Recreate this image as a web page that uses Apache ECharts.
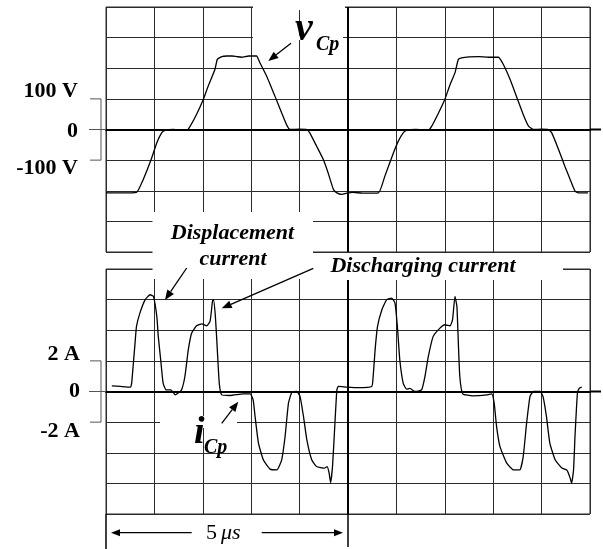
<!DOCTYPE html>
<html>
<head>
<meta charset="utf-8">
<script src="https://cdn.jsdelivr.net/npm/echarts@6/dist/echarts.min.js"></script>
<style>
  html, body { margin: 0; padding: 0; background: #fff; }
  #c { width: 603px; height: 549px; }
</style>
</head>
<body>
<div id="c"></div>
<script>
// Time in microseconds, 0 = centre graticule line (1 us per division).
const vcpTime = [-5, -4.7, -4.37, -4.23, -4.06, -3.95, -3.85, -3.78, -3.6, -3.5,
  -3.4, -3.33, -3.26, -3.13, -2.99, -2.89, -2.75, -2.70, -2.61, -2.5,
  -2.4, -2.3, -2.2, -2.05, -1.89, -1.82, -1.68, -1.51, -1.37, -1.27,
  -1.20, -1.0, -0.85, -0.79, -0.65, -0.51, -0.41, -0.30, -0.23, -0.13,
  0, 0.1, 0.3, 0.63, 0.76, 0.94, 1.04, 1.14, 1.21, 1.4,
  1.66, 1.73, 1.87, 2.0, 2.11, 2.21, 2.28, 2.35, 2.5, 2.7,
  2.9, 3.11, 3.21, 3.35, 3.49, 3.62, 3.73, 3.83, 4.0, 4.14,
  4.21, 4.35, 4.48, 4.59, 4.69, 4.76, 4.96];
// Capacitor voltage v_Cp (V)
const vcpVolts = [-207, -207, -205, -163, -95, -43, -11, -3, 0, -2,
  -3, -3, 11, 49, 98, 141, 196, 229, 238, 240,
  240, 238, 236, 240, 240, 218, 174, 109, 54, 16,
  0, 1, 0, -11, -54, -98, -142, -196, -207, -212,
  -207, -205, -208, -207, -153, -76, -38, -11, -3, 0,
  -2, 11, 54, 98, 147, 185, 229, 234, 237, 238,
  236, 236, 212, 163, 104, 49, 11, 0, 1, 0,
  -11, -65, -120, -163, -201, -207, -207];

const icpTime = [-4.88, -4.7, -4.5, -4.47, -4.44, -4.4, -4.37, -4.30, -4.19, -4.09,
  -4.02, -3.95, -3.92, -3.87, -3.82, -3.76, -3.66, -3.57, -3.51, -3.44,
  -3.37, -3.30, -3.23, -3.13, -3.02, -2.92, -2.85, -2.80, -2.78, -2.74,
  -2.70, -2.66, -2.61, -2.44, -2.16, -2.02, -1.96, -1.92, -1.85, -1.75,
  -1.61, -1.47, -1.37, -1.30, -1.23, -1.16, -1.06, -0.99, -0.92, -0.85,
  -0.75, -0.65, -0.48, -0.43, -0.39, -0.36, -0.32, -0.27, -0.23, -0.20,
  -0.03, 0.2, 0.49, 0.52, 0.56, 0.61, 0.70, 0.80, 0.90, 0.97,
  1.02, 1.07, 1.14, 1.21, 1.28, 1.38, 1.52, 1.59, 1.66, 1.76,
  1.90, 2.0, 2.11, 2.16, 2.21, 2.25, 2.28, 2.31, 2.37, 2.58,
  2.86, 2.97, 3.02, 3.07, 3.14, 3.28, 3.42, 3.55, 3.62, 3.69,
  3.76, 3.83, 3.97, 4.03, 4.10, 4.17, 4.28, 4.42, 4.52, 4.55,
  4.59, 4.62, 4.66, 4.69, 4.74, 4.78, 4.83];
// Capacitor current i_Cp (A)
const icpAmps = [0.37, 0.33, 0.29, 0.55, 1.63, 3.16, 4.25, 5.12, 6.0, 6.32,
  6.21, 4.9, 3.6, 2.07, 0.55, 0.11, 0.11, -0.22, -0.1, 0.1,
  0.98, 2.72, 3.82, 4.29, 4.42, 4.29, 4.58, 5.88, 6.0, 4.9,
  2.72, 0.55, -0.22, -0.26, -0.15, -0.15, -0.54, -1.63, -3.37, -4.46,
  -5.07, -5.12, -4.46, -2.94, -0.76, -0.06, 0, -0.33, -1.63, -3.16,
  -4.46, -4.9, -5.0, -4.9, -5.33, -5.95, -4.9, -2.07, 0.11, 0.33,
  0.29, 0.25, 0.33, 0.98, 2.72, 4.25, 5.34, 6.0, 6.1, 5.78,
  4.25, 2.07, 0.55, 0.15, 0.2, 0, 0.1, 0.98, 2.29, 3.6,
  4.14, 4.36, 4.29, 4.69, 6.21, 5.56, 3.16, 0.98, -0.15, -0.28,
  -0.22, -0.15, -0.76, -2.29, -3.6, -4.68, -5.12, -5.12, -4.25, -2.07,
  -0.33, 0, 0, -0.33, -1.63, -3.37, -4.46, -5.0, -5.12, -5.3,
  -5.66, -5.99, -5.12, -2.94, -0.11, 0.22, 0.29];

// Scale marks on the left of each trace
const voltLabelValues = [100, 0, -100];
const voltLabelTexts = ['100 V', '0', '-100 V'];
const ampLabelValues = [2, 0, -2];
const ampLabelTexts = ['2 A', '0', '-2 A'];
const scaleBarValue = '5';
const scaleBarUnit = 'μs';

const SERIF = '"Liberation Serif", "Times New Roman", serif';
const GRID_COLOR = '#2b2b2b';

function pairs(xs, ys) { return xs.map((x, i) => [x, ys[i]]); }

function labelFormatter(values, texts) {
  const keys = ['up', 'mid', 'down'];
  return function (v) {
    const i = values.indexOf(v);
    return i < 0 ? '' : '{' + keys[i] + '|' + texts[i] + '}';
  };
}
function labelRich(padUp, padMid, padDown) {
  const base = { fontFamily: SERIF, fontWeight: 'bold', fontSize: 22, color: '#000' };
  return {
    up: Object.assign({ padding: padUp }, base),
    mid: Object.assign({ padding: padMid }, base),
    down: Object.assign({ padding: padDown }, base)
  };
}

function xAxisFor(g) {
  return {
    type: 'value', gridIndex: g, min: -5, max: 5, interval: 1,
    axisLabel: { show: false }, axisTick: { show: false },
    axisLine: { show: true, onZero: true, lineStyle: { color: '#000', width: 2 } },
    splitLine: { show: true, lineStyle: { color: GRID_COLOR, width: 1 } }
  };
}
function yAxisFor(g, min, max, step, margin, values, texts, rich) {
  return {
    type: 'value', gridIndex: g, min: min, max: max, interval: step,
    axisLine: { show: false }, axisTick: { show: false },
    axisLabel: { show: true, margin: margin, formatter: labelFormatter(values, texts), rich: rich },
    splitLine: { show: true, lineStyle: { color: GRID_COLOR, width: 1 } }
  };
}

const centreLine = {
  symbol: 'none', silent: true, label: { show: false },
  lineStyle: { color: '#000', width: 2, type: 'solid' },
  data: [{ xAxis: 0 }]
};

const option = {
  animation: false,
  backgroundColor: '#fff',
  grid: [
    { left: 106, top: 7, width: 484, height: 245, show: true, borderColor: GRID_COLOR, borderWidth: 1, backgroundColor: 'transparent' },
    { left: 106, top: 269, width: 484, height: 245, show: true, borderColor: GRID_COLOR, borderWidth: 1, backgroundColor: 'transparent' }
  ],
  xAxis: [xAxisFor(0), xAxisFor(1)],
  yAxis: [
    yAxisFor(0, -400, 400, 100, 28, voltLabelValues, voltLabelTexts, labelRich([0, 0, 15, 0], [3, 0, 0, 0], [17, 0, 0, 0])),
    yAxisFor(1, -8, 8, 2, 26, ampLabelValues, ampLabelTexts, labelRich([0, 0, 14, 0], [0, 0, 0, 0], [18, 0, 0, 0]))
  ],
  series: [
    {
      name: 'v_Cp', type: 'line', xAxisIndex: 0, yAxisIndex: 0,
      data: pairs(vcpTime, vcpVolts), showSymbol: false, smooth: 0.15,
      lineStyle: { color: '#000', width: 1.3 }, markLine: centreLine
    },
    {
      name: 'i_Cp', type: 'line', xAxisIndex: 1, yAxisIndex: 1,
      data: pairs(icpTime, icpAmps), showSymbol: false, smooth: 0.15,
      lineStyle: { color: '#000', width: 1.3 }, markLine: centreLine
    }
  ]
};

const chart = echarts.init(document.getElementById('c'), null, { renderer: 'canvas' });
chart.setOption(option);

const px = (g, x, y) => chart.convertToPixel({ gridIndex: g }, [x, y]);

function seg(x1, y1, x2, y2, w, color, z) {
  return { type: 'line', silent: true, z: z || 30,
    shape: { x1: x1, y1: y1, x2: x2, y2: y2 },
    style: { stroke: color || '#000', lineWidth: w || 1 } };
}
function arrow(x1, y1, x2, y2, len, half) {
  len = len || 10; half = half || 4;
  const a = Math.atan2(y2 - y1, x2 - x1);
  const bx = x2 - len * Math.cos(a), by = y2 - len * Math.sin(a);
  const nx = -Math.sin(a) * half, ny = Math.cos(a) * half;
  return [
    seg(x1, y1, bx, by, 1.3),
    { type: 'polygon', silent: true, z: 30,
      shape: { points: [[x2, y2], [bx + nx, by + ny], [bx - nx, by - ny]] },
      style: { fill: '#000' } }
  ];
}
function whiteBox(x, y, w, h) {
  return { type: 'rect', silent: true, z: 10, shape: { x: x, y: y, width: w, height: h }, style: { fill: '#fff' } };
}
function txt(s, x, y, size, align, italic, bold) {
  return { type: 'text', silent: true, z: 40, x: x, y: y,
    style: { text: s, fill: '#000', textAlign: align, textVerticalAlign: 'middle',
      font: (italic ? 'italic ' : '') + (bold ? 'bold ' : '') + size + 'px ' + SERIF } };
}
function bracket(g, top, mid, bot) {
  const yT = px(g, 0, top)[1], yM = px(g, 0, mid)[1], yB = px(g, 0, bot)[1];
  const left = px(g, -5, 0)[0];
  return [
    { type: 'polyline', silent: true, z: 30,
      shape: { points: [[left - 16, yT], [left - 5, yT], [left - 5, yB], [left - 16, yB]] },
      style: { stroke: '#555', lineWidth: 1, fill: null } },
    seg(left - 17, yM, left, yM, 1, '#555')
  ];
}

const right0 = px(0, 5, 0), right1 = px(1, 5, 0);
const leftBottom = px(1, -5, -8), centreBottom = px(1, 0, -8);

let els = [];
// masks where annotations sit on the graticule
els.push(whiteBox(253, 5, 92, 5));
els.push(whiteBox(253, 35.5, 90, 4.5));
els.push(whiteBox(152.5, 212, 160.5, 67));
els.push(whiteBox(313, 255, 250, 25));
els.push(whiteBox(160, 416, 77, 12));
// zero lines running past the right edge
els.push(seg(right0[0], right0[1], right0[0] + 11, right0[1], 2));
els.push(seg(right1[0], right1[1], right1[0] + 11, right1[1], 2));
// scale brackets
els = els.concat(bracket(0, 100, 0, -100), bracket(1, 2, 0, -2));
// trace names
els.push(txt('v', 295, 30, 40, 'left', true, true));
els.push(txt('Cp', 316, 45, 20, 'left', true, true));
els = els.concat(arrow(291, 43.3, 268.3, 61));
els.push(txt('i', 194, 433, 38, 'left', true, true));
els.push(txt('Cp', 204, 448, 20, 'left', true, true));
els = els.concat(arrow(221.7, 423.3, 238.3, 401.7));
// annotations
els.push(txt('Displacement', 232.5, 233, 22, 'center', true, true));
els.push(txt('current', 233, 259.5, 22, 'center', true, true));
els = els.concat(arrow(186.7, 268, 165, 300));
els.push(txt('Discharging current', 423, 266, 22, 'center', true, true));
els = els.concat(arrow(313.3, 268.3, 221.7, 308.3));
// time scale bar below the current trace
els.push(seg(leftBottom[0], leftBottom[1], leftBottom[0], 549, 1.5));
els.push(seg(centreBottom[0], centreBottom[1], centreBottom[0], 547, 1.5));
els = els.concat(arrow(191.7, 532.7, leftBottom[0] + 5, 532.7, 9, 3.5));
els = els.concat(arrow(261.7, 532.7, centreBottom[0] - 5, 532.7, 9, 3.5));
els.push(txt(scaleBarValue, 217, 533, 22, 'right', false, false));
els.push(txt(scaleBarUnit, 221, 533, 22, 'left', true, false));

chart.setOption({ graphic: { elements: els } });
</script>
</body>
</html>
